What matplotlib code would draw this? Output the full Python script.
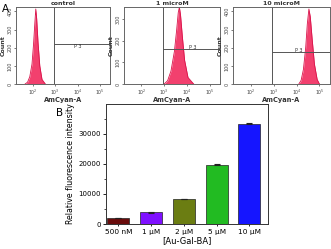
import matplotlib.pyplot as plt
import numpy as np

# panel A: flow cytometry histograms (x in log10 units of AmCyan-A)
hist_titles = ["control", "1 microM", "10 microM"]
hist_x = [
    [1.64, 1.75, 1.85, 1.95, 2.02, 2.08, 2.12, 2.16, 2.22, 2.30, 2.40, 2.55],
    [3.00, 3.15, 3.30, 3.45, 3.55, 3.62, 3.67, 3.72, 3.80, 3.90, 4.05, 4.30],
    [4.10, 4.20, 4.30, 4.40, 4.47, 4.54, 4.60, 4.68, 4.78, 4.90, 5.00],
]
hist_counts = [
    [0, 10, 40, 110, 220, 340, 413, 360, 230, 100, 25, 0],
    [0, 15, 60, 150, 250, 330, 355, 320, 220, 110, 30, 0],
    [0, 20, 80, 200, 330, 413, 370, 250, 110, 25, 0],
]
hist_ymax = [424, 356, 424]
hist_yticks = [[0, 100, 200, 300, 400], [0, 100, 200, 300], [0, 100, 200, 300, 400]]
gate_x = [2.93, 2.95, 2.93]
gate_y = [222, 161, 176]
p3_pos = [(4.03, 205), (4.24, 168), (4.08, 183)]
log_ticks = [2, 3, 4, 5]
log_labels = ["$10^2$", "$10^3$", "$10^4$", "$10^5$"]

# panel B: mean fluorescence intensity
conc = ["500 nM", "1 μM", "2 μM", "5 μM", "10 μM"]
intensity = [2050, 3900, 8300, 19700, 33400]
intensity_err = [60, 80, 100, 150, 200]
bar_colors = ["#6a0c0c", "#7f10ff", "#6b7d12", "#22bb22", "#1515ff"]

W, H = 331, 249
fig = plt.figure(figsize=(W / 100, H / 100), dpi=100)

hist_boxes = [(16, 94), (124, 96), (233, 97)]
for i in range(3):
    left, width = hist_boxes[i]
    ax = fig.add_axes([left / W, 1 - 84 / H, width / W, 77 / H])
    ax.fill_between(hist_x[i], hist_counts[i], color="#f2406e", lw=0)
    ax.plot(hist_x[i], hist_counts[i], color="#d8124a", lw=0.6)
    ax.set_xlim(1.23, 5.46)
    ax.set_ylim(0, hist_ymax[i])
    ax.axvline(gate_x[i], color="#555555", lw=0.7)
    ax.plot([gate_x[i], 5.46], [gate_y[i], gate_y[i]], color="#555555", lw=0.7)
    ax.text(p3_pos[i][0], p3_pos[i][1], "P 3", fontsize=3.5, color="#333333",
            ha="center", va="center")
    ax.set_xticks(log_ticks)
    ax.set_xticklabels(log_labels, fontsize=3.3, color="#444444")
    ax.set_yticks(hist_yticks[i])
    ax.set_yticklabels([str(v) for v in hist_yticks[i]], fontsize=3.5,
                       rotation=90, va="center", color="#444444")
    ax.tick_params(length=1.5, width=0.5, pad=1, colors="#444444")
    for s in ax.spines.values():
        s.set_color("#666666")
        s.set_linewidth(0.7)
    ax.set_title(hist_titles[i], fontsize=4.5, fontweight="bold", pad=1.5,
                 color="#333333")
    ax.set_xlabel("AmCyan-A", fontsize=4.8, fontweight="bold", labelpad=0.5,
                  color="#333333")
    ax.set_ylabel("Count", fontsize=4.5, fontweight="bold", labelpad=1,
                  color="#333333")

fig.text(5 / W, 1 - 9 / H, "A", fontsize=7.5, ha="center", va="center")
fig.text(60 / W, 1 - 113 / H, "B", fontsize=7.5, ha="center", va="center")

# bar chart
axb = fig.add_axes([106 / W, 1 - 224 / H, 162 / W, 120 / H])
xpos = np.arange(len(conc))
axb.bar(xpos, intensity, width=0.67, color=bar_colors, edgecolor="#222222",
        linewidth=0.5, yerr=intensity_err, capsize=2.5,
        error_kw={"elinewidth": 0.6, "capthick": 0.8, "ecolor": "#222222"})
axb.set_xlim(-0.38, 4.57)
axb.set_ylim(0, 40000)
axb.set_yticks([0, 10000, 20000, 30000])
axb.set_yticks([5000, 15000, 25000, 35000], minor=True)
axb.set_xticks(xpos)
axb.set_xticklabels(conc, fontsize=5.3)
axb.tick_params(axis="y", labelsize=5.0, length=2, width=0.6, pad=1.5)
axb.tick_params(axis="y", which="minor", length=1.2, width=0.5)
axb.tick_params(axis="x", length=1.5, width=0.6, pad=2)
for s in axb.spines.values():
    s.set_linewidth(0.7)
    s.set_color("#333333")
axb.set_ylabel("Relative fluorescence intensity", fontsize=5.7, labelpad=2.5)
axb.set_xlabel("[Au-Gal-BA]", fontsize=6.0, labelpad=1)

fig.savefig("out.png", dpi=100)
